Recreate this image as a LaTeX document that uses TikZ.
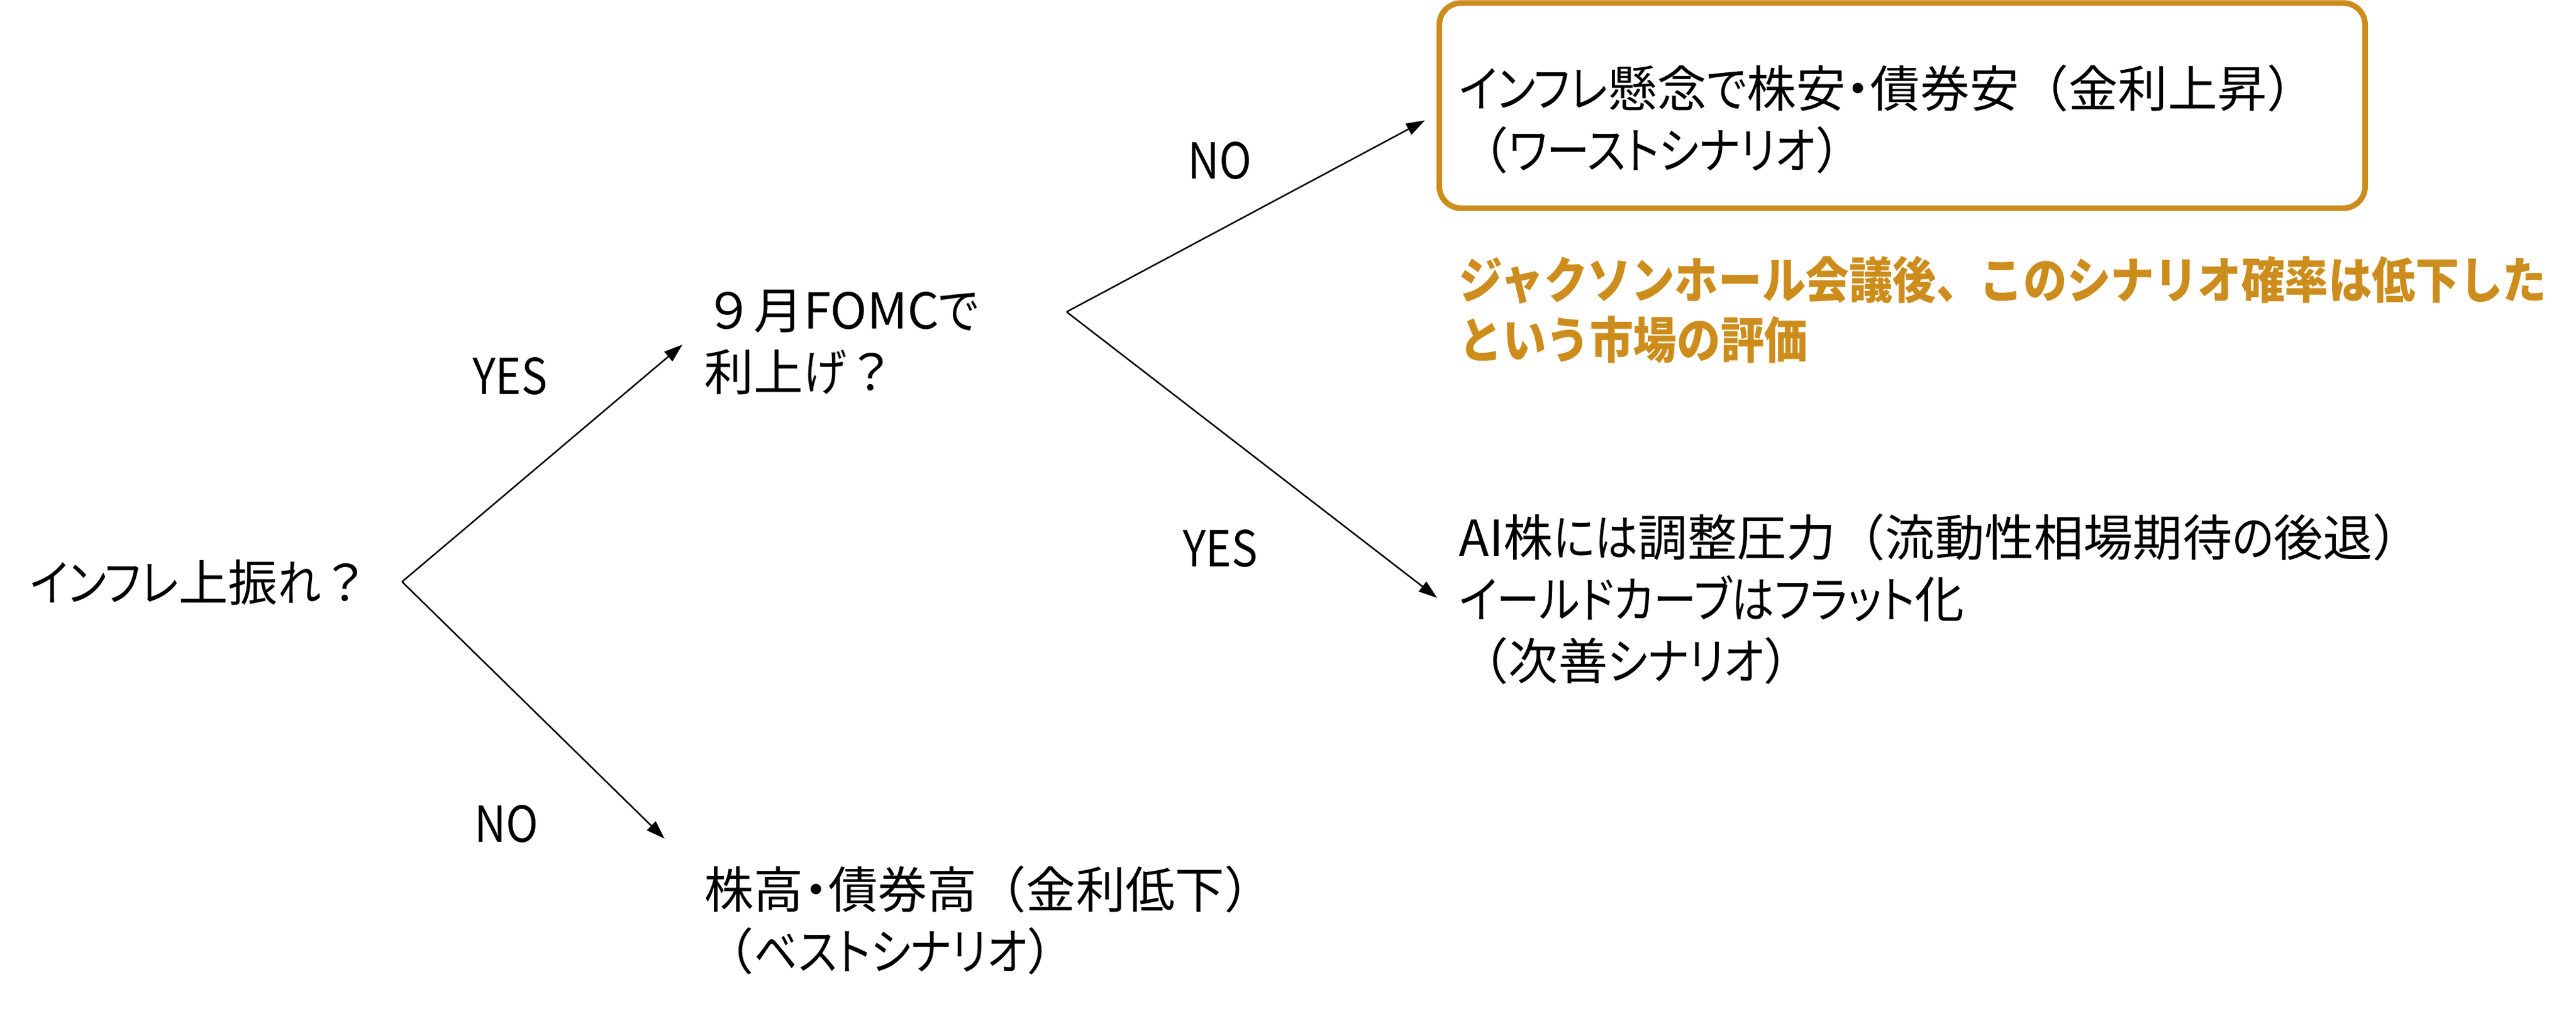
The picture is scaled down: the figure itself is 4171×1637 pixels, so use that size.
\documentclass[tikz,border=0pt]{standalone}
\usepackage{fontspec}
\usetikzlibrary{arrows.meta}
\newfontfamily\jp[RawFeature=+palt]{Noto Sans CJK JP}
\newfontfamily\jpf{Noto Sans CJK JP}
\newfontfamily\jpc[FakeStretch=0.88]{Noto Sans CJK JP}
\newfontfamily\jk[RawFeature=+palt,FakeStretch=0.87]{Noto Sans CJK JP}
\newcommand{\kana}[1]{{\jk #1}}
\newcommand{\jlp}{{\jpf （}}
\newcommand{\jrp}{{\jpf ）}}
\newcommand{\jq}{{\jpf ？}}
\newcommand{\jnine}{{\jpf ９}}
\definecolor{accent}{RGB}{205,141,28}
\tikzset{
  lbl/.style={inner sep=0pt, font=\jp\fontsize{22.8pt}{28.45pt}\selectfont, align=left, anchor=west},
  yn/.style={inner sep=0pt, font=\jpc\fontsize{22.8pt}{28.45pt}\selectfont},
  note/.style={inner sep=0pt, font=\jpc\bfseries\fontsize{22.8pt}{27.6pt}\selectfont, text=accent, align=left, anchor=west},
  arr/.style={line width=0.7pt, -{Triangle[length=0.3cm,width=0.2cm]}},
  framebox/.style={draw=accent, line width=2.6pt, rounded corners=0.35cm, minimum width=14.98cm, minimum height=3.32cm, inner sep=0pt}
}
\begin{document}
\begin{tikzpicture}[x=0.01cm,y=-0.01cm]
\useasboundingbox (0,0) rectangle (4171,1637);
% nodes
\node[lbl] (q1) at (48,943) {\kana{インフレ}上振\kana{れ}\jq};
\node[lbl] (q2) at (1140,554) {\jnine 月FOMC\kana{で}\\利上\kana{げ}\jq};
\node[lbl] (best) at (1140,1490) {株高・債券高\jlp 金利低下\jrp\\\jlp\kana{ベストシナリオ}\jrp};
\node[framebox] (box) at (3080,171) {};
\node[lbl] (worst) at (2362,193) {\kana{インフレ}懸念\kana{で}株安・債券安\jlp 金利上昇\jrp\\\jlp\kana{ワーストシナリオ}\jrp};
\node[note] (jh) at (2362,501) {ジャクソンホール会議後、このシナリオ確率は低下した\\という市場の評価};
\node[lbl] (second) at (2362,970) {AI株\kana{には}調整圧力\jlp 流動性相場期待\kana{の}後退\jrp\\\kana{イールドカーブはフラット}化\\\jlp 次善\kana{シナリオ}\jrp};
% branch points and tips
\coordinate (b1) at (651,942);
\coordinate (b2) at (1727,505);
\coordinate (t1) at (1105,558);
\coordinate (t2) at (1076,1358);
\coordinate (t3) at (2307,195);
\coordinate (t4) at (2327,968);
% connectors
\draw[arr] (b1) -- (t1);
\draw[arr] (b1) -- (t2);
\draw[arr] (b2) -- (t3);
\draw[arr] (b2) -- (t4);
% labels
\node[yn] (y1) at (826,609) {YES};
\node[yn] (n1) at (820,1334) {NO};
\node[yn] (n2) at (1975,260) {NO};
\node[yn] (y2) at (1976,888) {YES};
\end{tikzpicture}
\end{document}
